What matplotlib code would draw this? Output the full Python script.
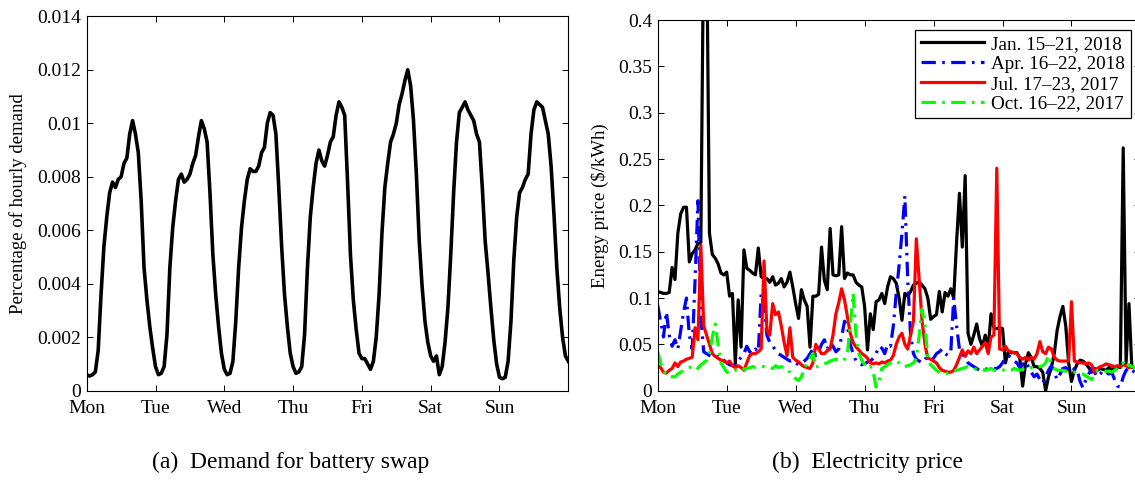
import numpy as np
import matplotlib
matplotlib.use("Agg")
import matplotlib.pyplot as plt

plt.rcParams['font.family'] = ['Liberation Serif', 'DejaVu Serif']
plt.rcParams['mathtext.fontset'] = 'stix'

day_labels = ['Mon', 'Tue', 'Wed', 'Thu', 'Fri', 'Sat', 'Sun']
day_ticks = [0, 24, 48, 72, 96, 120, 144]

# (a) share of hourly battery swap demand, hour 0..168
demand = [
    0.0006, 0.00055, 0.0006, 0.0007, 0.0015, 0.0036, 0.0054, 0.0065, 0.0074, 0.0078, 0.0076, 0.0079,
    0.0080, 0.0085, 0.0087, 0.0096, 0.0101, 0.0096, 0.0089, 0.0071, 0.0046, 0.0034, 0.0024, 0.0016,
    0.0009, 0.0006, 0.00065, 0.0009, 0.0021, 0.0046, 0.0061, 0.0071, 0.0079, 0.0081, 0.0078, 0.0079,
    0.0081, 0.0085, 0.0088, 0.0095, 0.0101, 0.0098, 0.0093, 0.0074, 0.0051, 0.0036, 0.0024, 0.0014,
    0.0008, 0.0006, 0.00065, 0.0011, 0.0026, 0.0046, 0.0061, 0.0071, 0.0079, 0.0083, 0.0082, 0.0082,
    0.0084, 0.0089, 0.0091, 0.0100, 0.0104, 0.0103, 0.0096, 0.0076, 0.0054, 0.0036, 0.0024, 0.0014,
    0.0009, 0.00065, 0.0007, 0.0009, 0.0021, 0.0046, 0.0065, 0.0076, 0.0085, 0.0090, 0.0086, 0.0084,
    0.0088, 0.0093, 0.0095, 0.0103, 0.0108, 0.0106, 0.0103, 0.0078, 0.0051, 0.0034, 0.0023, 0.0014,
    0.0012, 0.0012, 0.0010, 0.0008, 0.0011, 0.0020, 0.0036, 0.0059, 0.0076, 0.0085, 0.0093, 0.0096,
    0.0100, 0.0107, 0.0111, 0.0116, 0.0120, 0.0114, 0.0101, 0.0081, 0.0056, 0.0039, 0.0026, 0.0018,
    0.0013, 0.0011, 0.0013, 0.0006, 0.0009, 0.0018, 0.0031, 0.0051, 0.0074, 0.0093, 0.0104, 0.0106,
    0.0108, 0.0105, 0.0103, 0.0101, 0.0096, 0.0093, 0.0076, 0.0056, 0.0044, 0.0031, 0.0019, 0.0010,
    0.0005, 0.00045, 0.0005, 0.0011, 0.0026, 0.0049, 0.0065, 0.0074, 0.0076, 0.0079, 0.0081, 0.0096,
    0.0105, 0.0108, 0.0107, 0.0106, 0.0101, 0.0096, 0.0084, 0.0066, 0.0046, 0.0031, 0.0020, 0.0013,
    0.0011,
]
demand_yticks = [0, 0.002, 0.004, 0.006, 0.008, 0.01, 0.012, 0.014]
demand_yticklabels = ['0', '0.002', '0.004', '0.006', '0.008', '0.01', '0.012', '0.014']

# (b) hourly energy price ($/kWh), one week each
price_jan = [
    0.107, 0.106, 0.105, 0.105, 0.106, 0.133, 0.120, 0.170, 0.191, 0.198, 0.198, 0.139,
    0.148, 0.152, 0.159, 0.160, 0.500, 0.500, 0.170, 0.147, 0.143, 0.137, 0.127, 0.125,
    0.128, 0.102, 0.105, 0.029, 0.098, 0.047, 0.152, 0.132, 0.130, 0.127, 0.125, 0.154,
    0.123, 0.121, 0.121, 0.117, 0.123, 0.114, 0.116, 0.121, 0.112, 0.117, 0.128, 0.112,
    0.094, 0.078, 0.109, 0.098, 0.091, 0.047, 0.102, 0.102, 0.104, 0.155, 0.119, 0.109,
    0.175, 0.125, 0.124, 0.125, 0.177, 0.121, 0.127, 0.125, 0.125, 0.117, 0.114, 0.112,
    0.091, 0.044, 0.083, 0.066, 0.096, 0.098, 0.105, 0.094, 0.112, 0.123, 0.121, 0.116,
    0.100, 0.076, 0.105, 0.102, 0.107, 0.114, 0.116, 0.117, 0.114, 0.110, 0.100, 0.077,
    0.080, 0.082, 0.107, 0.085, 0.106, 0.102, 0.110, 0.100, 0.160, 0.213, 0.155, 0.232,
    0.062, 0.050, 0.060, 0.072, 0.056, 0.048, 0.060, 0.045, 0.083, 0.068, 0.067, 0.068,
    0.067, 0.030, 0.042, 0.041, 0.041, 0.041, 0.035, 0.005, 0.029, 0.041, 0.036, 0.026,
    0.026, 0.024, 0.020, 0.000, 0.015, 0.025, 0.040, 0.065, 0.080, 0.091, 0.070, 0.030,
    0.010, 0.022, 0.029, 0.033, 0.032, 0.029, 0.025, 0.020, 0.024, 0.022, 0.024, 0.023,
    0.022, 0.025, 0.023, 0.024, 0.026, 0.025, 0.262, 0.030, 0.094, 0.025, 0.025, 0.025,
]
price_apr = [
    0.092, 0.075, 0.058, 0.085, 0.060, 0.048, 0.055, 0.045, 0.065, 0.085, 0.100, 0.060,
    0.045, 0.120, 0.205, 0.080, 0.042, 0.040, 0.038, 0.036, 0.035, 0.037, 0.034, 0.033,
    0.030, 0.028, 0.027, 0.028, 0.032, 0.036, 0.040, 0.048, 0.042, 0.040, 0.045, 0.042,
    0.105, 0.090, 0.060, 0.052, 0.048, 0.044, 0.040, 0.038, 0.036, 0.034, 0.032, 0.033,
    0.030, 0.028, 0.030, 0.032, 0.035, 0.040, 0.045, 0.038, 0.042, 0.050, 0.055, 0.045,
    0.052, 0.048, 0.042, 0.045, 0.058, 0.075, 0.070, 0.050, 0.040, 0.032, 0.030, 0.028,
    0.029, 0.031, 0.032, 0.035, 0.040, 0.048, 0.046, 0.040, 0.050, 0.048, 0.070, 0.105,
    0.135, 0.170, 0.210, 0.120, 0.060, 0.040, 0.034, 0.032, 0.030, 0.034, 0.036, 0.033,
    0.035, 0.040, 0.042, 0.045, 0.040, 0.038, 0.042, 0.100, 0.070, 0.045, 0.040, 0.035,
    0.030, 0.028, 0.026, 0.024, 0.022, 0.022, 0.023, 0.024, 0.025, 0.024, 0.024, 0.026,
    0.030, 0.035, 0.038, 0.036, 0.032, 0.030, 0.025, 0.028, 0.032, 0.026, 0.020, 0.015,
    0.018, 0.012, 0.008, 0.015, 0.022, 0.027, 0.020, 0.012, 0.018, 0.024, 0.025, 0.022,
    0.020, 0.024, 0.022, 0.010, 0.003, 0.012, 0.018, 0.024, 0.020, 0.015, 0.018, 0.022,
    0.020, 0.018, 0.020, 0.012, 0.005, 0.004, 0.015, 0.022, 0.025, 0.022, 0.020, 0.022,
]
price_jul = [
    0.027, 0.025, 0.020, 0.019, 0.022, 0.024, 0.030, 0.026, 0.031, 0.032, 0.034, 0.035,
    0.036, 0.068, 0.055, 0.157, 0.070, 0.060, 0.050, 0.040, 0.037, 0.035, 0.033, 0.032,
    0.030, 0.032, 0.027, 0.025, 0.027, 0.025, 0.022, 0.030, 0.038, 0.040, 0.040, 0.042,
    0.045, 0.140, 0.065, 0.060, 0.094, 0.082, 0.085, 0.070, 0.052, 0.038, 0.068, 0.036,
    0.033, 0.031, 0.028, 0.026, 0.025, 0.024, 0.030, 0.050, 0.045, 0.040, 0.040, 0.043,
    0.045, 0.060, 0.083, 0.095, 0.110, 0.098, 0.080, 0.062, 0.052, 0.047, 0.044, 0.040,
    0.038, 0.035, 0.030, 0.029, 0.030, 0.029, 0.031, 0.030, 0.032, 0.033, 0.038, 0.050,
    0.058, 0.062, 0.050, 0.045, 0.060, 0.075, 0.164, 0.120, 0.075, 0.050, 0.035, 0.034,
    0.032, 0.030, 0.025, 0.022, 0.021, 0.020, 0.020, 0.022, 0.028, 0.036, 0.044, 0.037,
    0.043, 0.040, 0.047, 0.040, 0.044, 0.048, 0.052, 0.040, 0.058, 0.060, 0.240, 0.045,
    0.044, 0.048, 0.043, 0.042, 0.041, 0.040, 0.036, 0.034, 0.036, 0.033, 0.036, 0.034,
    0.040, 0.053, 0.042, 0.040, 0.047, 0.045, 0.036, 0.033, 0.032, 0.032, 0.032, 0.032,
    0.096, 0.032, 0.031, 0.030, 0.030, 0.029, 0.030, 0.028, 0.020, 0.024, 0.026, 0.027,
    0.029, 0.028, 0.027, 0.026, 0.027, 0.026, 0.028, 0.027, 0.025, 0.026, 0.025, 0.024,
]
price_oct = [
    0.042, 0.030, 0.022, 0.017, 0.016, 0.015, 0.015, 0.018, 0.020, 0.022, 0.024, 0.025,
    0.026, 0.027, 0.024, 0.028, 0.030, 0.033, 0.040, 0.058, 0.072, 0.050, 0.030, 0.025,
    0.020, 0.019, 0.020, 0.022, 0.024, 0.025, 0.023, 0.024, 0.025, 0.026, 0.025, 0.025,
    0.026, 0.026, 0.025, 0.025, 0.024, 0.027, 0.025, 0.026, 0.025, 0.022, 0.020, 0.016,
    0.013, 0.011, 0.015, 0.024, 0.030, 0.035, 0.040, 0.025, 0.027, 0.028, 0.029, 0.030,
    0.032, 0.033, 0.034, 0.033, 0.032, 0.034, 0.040, 0.070, 0.105, 0.060, 0.040, 0.033,
    0.028, 0.024, 0.026, 0.020, 0.004, 0.010, 0.024, 0.026, 0.028, 0.030, 0.031, 0.032,
    0.030, 0.027, 0.026, 0.027, 0.028, 0.030, 0.035, 0.060, 0.088, 0.070, 0.035, 0.028,
    0.025, 0.022, 0.020, 0.018, 0.018, 0.019, 0.020, 0.021, 0.022, 0.023, 0.024, 0.025,
    0.026, 0.025, 0.024, 0.023, 0.022, 0.023, 0.022, 0.023, 0.024, 0.022, 0.022, 0.021,
    0.022, 0.023, 0.022, 0.022, 0.024, 0.023, 0.022, 0.023, 0.022, 0.024, 0.025, 0.026,
    0.025, 0.026, 0.027, 0.030, 0.038, 0.030, 0.024, 0.022, 0.022, 0.022, 0.021, 0.021,
    0.020, 0.020, 0.019, 0.018, 0.018, 0.016, 0.014, 0.012, 0.018, 0.022, 0.023, 0.022,
    0.021, 0.021, 0.020, 0.022, 0.024, 0.028, 0.030, 0.025, 0.028, 0.026, 0.025, 0.024,
]
price_labels = ['Jan. 15–21, 2018', 'Apr. 16–22, 2018', 'Jul. 17–23, 2017', 'Oct. 16–22, 2017']
price_yticks = [0, 0.05, 0.1, 0.15, 0.2, 0.25, 0.3, 0.35, 0.4]
price_yticklabels = ['0', '0.05', '0.1', '0.15', '0.2', '0.25', '0.3', '0.35', '0.4']


def matlab_axes(ax):
    # boxed axes with inward ticks on all four sides
    for s in ax.spines.values():
        s.set_linewidth(0.8)
    ax.tick_params(direction='in', top=True, right=True, length=4.5, width=0.7,
                   labelsize=14, pad=4)
    ax.tick_params(axis='x', pad=6.5)


fig = plt.figure(figsize=(11.35, 4.8), dpi=100)

# left panel: demand
ax1 = fig.add_axes([0.0764, 0.186, 0.4243, 0.780])
hours_d = np.arange(len(demand))
ax1.plot(hours_d, demand, color='black', lw=2.6)
ax1.set_xlim(0, 168)
ax1.set_ylim(0, 0.014)
ax1.set_xticks(day_ticks)
ax1.set_xticklabels(day_labels)
ax1.set_yticks(demand_yticks)
ax1.set_yticklabels(demand_yticklabels)
ax1.set_ylabel('Percentage of hourly demand', fontsize=13.5)
ax1.yaxis.set_label_coords(-0.124, 0.5)
matlab_axes(ax1)

# right panel: prices (axes runs slightly past the right edge, as in the source)
ax2 = fig.add_axes([0.5795, 0.186, 0.4253, 0.7723])
hours_p = np.arange(len(price_jan))
ax2.plot(hours_p, price_jan, color='black', lw=2.3, label=price_labels[0])
ax2.plot(hours_p, price_apr, color='blue', lw=2.3, ls=(0, (4.5, 2, 0.8, 2)), label=price_labels[1])
ax2.plot(hours_p, price_jul, color='red', lw=2.3, label=price_labels[2])
ax2.plot(hours_p, price_oct, color=(0, 1, 0), lw=2.3, ls=(0, (4.5, 2, 0.8, 2)), label=price_labels[3])
ax2.set_xlim(0, 168)
ax2.set_ylim(0, 0.4)
ax2.set_xticks(day_ticks)
ax2.set_xticklabels(day_labels)
ax2.set_yticks(price_yticks)
ax2.set_yticklabels(price_yticklabels)
ax2.set_ylabel('Energy price (\\$/kWh)', fontsize=13.5)
ax2.yaxis.set_label_coords(-0.101, 0.5)
matlab_axes(ax2)

leg = ax2.legend(loc='upper right', bbox_to_anchor=(0.9962, 0.9375), bbox_transform=fig.transFigure,
                 fontsize=13.8, frameon=True, fancybox=False, framealpha=1, edgecolor='black',
                 handlelength=3.3, handletextpad=0.35, labelspacing=0.12, borderpad=0.3,
                 borderaxespad=0)
leg.get_frame().set_linewidth(0.9)

# sub-captions
fig.text(290.8 / 1135, 1 - 462 / 480, '(a)  Demand for battery swap', ha='center', va='center', fontsize=17)
fig.text(867 / 1135, 1 - 462 / 480, '(b)  Electricity price', ha='center', va='center', fontsize=17)

fig.savefig('out.png', dpi=100)
